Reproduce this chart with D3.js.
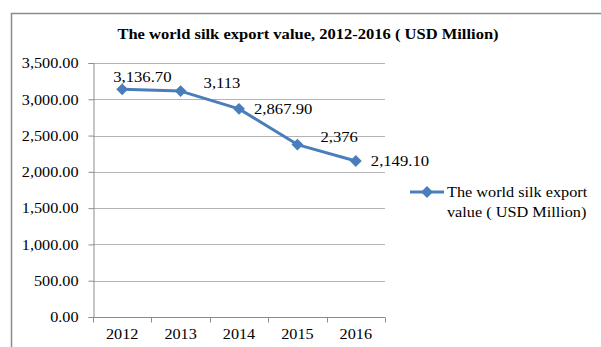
<!DOCTYPE html>
<html>
<head>
<meta charset="utf-8">
<script src="https://cdn.jsdelivr.net/npm/d3@7"></script>
<style>
  html, body { margin: 0; padding: 0; background: #fff; }
  svg { display: block; font-family: "Liberation Serif", "Times New Roman", serif; }
</style>
</head>
<body>
<svg id="chart" width="601" height="347"></svg>
<script>
// World silk export value, 2012-2016
const years = ["2012", "2013", "2014", "2015", "2016"];
const values = [3136.70, 3113, 2867.90, 2376, 2149.10];
const valueLabels = ["3,136.70", "3,113", "2,867.90", "2,376", "2,149.10"];
const yTicks = [0, 500, 1000, 1500, 2000, 2500, 3000, 3500];
const seriesName = ["The world silk export", "value ( USD Million)"];
const titleText = "The world silk export value, 2012-2016 ( USD Million)";
// where each data label sits relative to its point
const labelPlacement = ["above", "aboveRight", "right", "aboveRight", "right"];

const svg = d3.select("#chart");
const color = "#4a7ebb";
const plot = { left: 93, right: 385, top: 63, bottom: 317 };

// widen glyphs horizontally around each text's own anchor point
function stretch(sel, s) {
  sel.each(function () {
    const t = d3.select(this);
    const x0 = +t.attr("x") || 0, y0 = +t.attr("y") || 0;
    t.attr("transform", `translate(${x0},${y0}) scale(${s},1) translate(${-x0},${-y0})`);
  });
}

// outer chart frame
svg.append("rect")
  .attr("x", 11.5).attr("y", 13.5)
  .attr("width", 640).attr("height", 400)
  .attr("fill", "#fff")
  .attr("stroke", "#8c8c8c").attr("stroke-width", 1.5);

// title
svg.append("text")
  .attr("x", 308).attr("y", 39)
  .attr("text-anchor", "middle")
  .attr("font-size", 14.5).attr("font-weight", "bold")
  .text(titleText)
  .call(stretch, 1.14);

const x = d3.scaleBand().domain(years).range([plot.left, plot.right]);
const y = d3.scaleLinear().domain([0, 3500]).range([plot.bottom, plot.top]);

// horizontal gridlines
svg.append("g").selectAll("line").data(yTicks.filter(d => d > 0)).join("line")
  .attr("x1", plot.left).attr("x2", plot.right)
  .attr("y1", d => Math.round(y(d)) + 0.5).attr("y2", d => Math.round(y(d)) + 0.5)
  .attr("stroke", "#b3b3b3").attr("stroke-width", 1);

// y axis
const yAxis = svg.append("g")
  .attr("transform", `translate(${plot.left + 0.5},0)`)
  .call(d3.axisLeft(y).tickValues(yTicks).tickSize(5).tickPadding(10)
    .tickFormat(d3.format(",.2f")));
yAxis.attr("font-size", null).attr("font-family", null);
yAxis.selectAll("path, line").attr("stroke", "#8c8c8c");
yAxis.selectAll("text").attr("font-size", 15).attr("fill", "#000")
  .call(stretch, 1.08);

// x axis
const xAxis = svg.append("g")
  .attr("transform", `translate(0,${plot.bottom + 0.5})`)
  .call(d3.axisBottom(x).tickSize(0).tickPadding(11));
xAxis.attr("font-size", null).attr("font-family", null);
xAxis.select("path").attr("stroke", "#8c8c8c").attr("d", `M${plot.left},0H${plot.right}`);
xAxis.selectAll("text").attr("font-size", 15).attr("fill", "#000")
  .call(stretch, 1.08);
// category boundary ticks
xAxis.append("g").selectAll("line")
  .data(years.map(d => x(d)).concat([plot.right])).join("line")
  .attr("x1", d => Math.round(d) + 0.5).attr("x2", d => Math.round(d) + 0.5)
  .attr("y1", 0).attr("y2", 5)
  .attr("stroke", "#8c8c8c");

const cx = d => x(d) + x.bandwidth() / 2;

// series line
svg.append("path")
  .datum(values)
  .attr("fill", "none")
  .attr("stroke", color).attr("stroke-width", 3)
  .attr("stroke-linejoin", "round")
  .attr("d", d3.line().x((d, i) => cx(years[i])).y(d => y(d)));

// diamond markers
const diamond = d3.symbol().type(d3.symbolDiamond2).size(90);
svg.append("g").selectAll("path").data(values).join("path")
  .attr("d", diamond)
  .attr("transform", (d, i) => `translate(${cx(years[i])},${y(d)})`)
  .attr("fill", color);

// data labels
const offsets = {
  above: { dx: -9, dy: -7 },
  aboveRight: { dx: 23, dy: -3 },
  right: { dx: 15, dy: 5 }
};
svg.append("g").selectAll("text").data(values).join("text")
  .attr("x", (d, i) => cx(years[i]) + offsets[labelPlacement[i]].dx)
  .attr("y", (d, i) => y(d) + offsets[labelPlacement[i]].dy)
  .attr("font-size", 14.5)
  .text((d, i) => valueLabels[i])
  .call(stretch, 1.15);

// legend
const lg = svg.append("g").attr("transform", "translate(410,192)");
lg.append("line").attr("x1", 0).attr("x2", 34).attr("y1", 0).attr("y2", 0)
  .attr("stroke", color).attr("stroke-width", 3);
lg.append("path").attr("d", diamond).attr("transform", "translate(17,0)").attr("fill", color);
lg.append("text").attr("x", 37).attr("y", 5).attr("font-size", 14).text(seriesName[0])
  .call(stretch, 1.16);
lg.append("text").attr("x", 37).attr("y", 25).attr("font-size", 14).text(seriesName[1])
  .call(stretch, 1.16);
</script>
</body>
</html>
